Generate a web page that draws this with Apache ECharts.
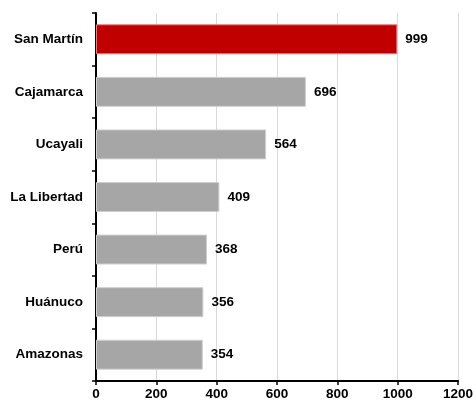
<!DOCTYPE html>
<html><head><meta charset="utf-8">
<script src="https://cdn.jsdelivr.net/npm/echarts@6/dist/echarts.min.js"></script>
<style>html,body{margin:0;padding:0;background:#fff}#c{width:476px;height:401px}</style>
</head><body><div id="c"></div>
<script>
const categories = ["San Martín","Cajamarca","Ucayali","La Libertad","Perú","Huánuco","Amazonas"];
const values = [999,696,564,409,368,356,354];
const highlight = "San Martín";
const chart = echarts.init(document.getElementById('c'));
const font = "'Liberation Sans', Arial, sans-serif";
chart.setOption({
  animation:false,
  grid:{left:96,right:14,top:13,bottom:20,containLabel:false},
  xAxis:{type:'value',min:0,max:1200,interval:200,
    axisLine:{show:true,lineStyle:{color:'#000',width:2}},
    axisTick:{show:true,length:4,lineStyle:{color:'#000',width:1.5}},
    splitLine:{show:true,lineStyle:{color:'#d9d9d9',width:1}},
    axisLabel:{color:'#000',fontWeight:'bold',fontSize:13.5,fontFamily:font,margin:6,
      formatter:v=>String(v)}},
  yAxis:{type:'category',inverse:true,data:categories,
    axisLine:{show:true,lineStyle:{color:'#000',width:2}},
    axisTick:{show:true,length:4,lineStyle:{color:'#000',width:1.5}},
    axisLabel:{color:'#000',fontWeight:'bold',fontSize:13.5,fontFamily:font,margin:13}},
  series:[{type:'bar',barWidth:'57%',
    data:values.map((v,i)=>({value:v,itemStyle:{color:categories[i]===highlight?'#C00000':'#A6A6A6',
      borderColor:categories[i]===highlight?'#e08080':'#d0d0d0',borderWidth:1}})),
    label:{show:true,position:'right',distance:8,color:'#000',fontWeight:'bold',fontSize:13.5,fontFamily:font}}]
});
</script></body></html>
